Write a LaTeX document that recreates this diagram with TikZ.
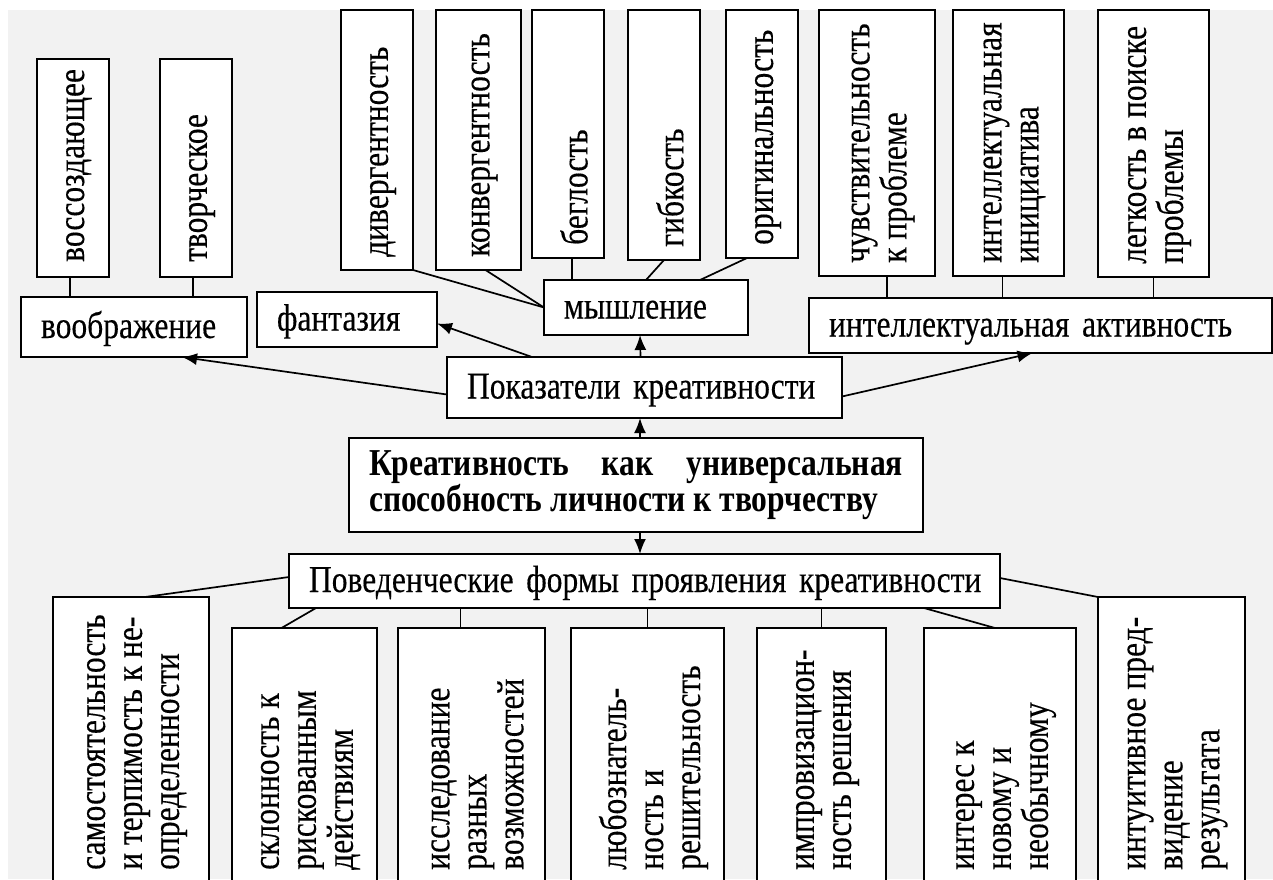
\documentclass[tikz,border=0pt]{standalone}
\usepackage{fontspec}
\setmainfont[FakeStretch=0.83, UprightFeatures={FakeBold=0.3}]{Liberation Serif}
\usetikzlibrary{arrows.meta,calc}
\definecolor{bgc}{HTML}{F2F2F2}
\newcommand{\fsz}{\fontsize{38}{37}\selectfont\hyphenpenalty=10000 }
\newcommand{\fszb}{\fontsize{38}{35}\selectfont\bfseries\hyphenpenalty=10000 }
\begin{document}
\begin{tikzpicture}[x=1pt,y=-1pt,
 bx/.style={draw, line width=1.7pt, fill=white, inner sep=0pt, outer sep=0pt, anchor=north west},
 hb/.style={bx, font=\fsz, align=left, inner xsep=20pt, inner ysep=0pt},
 hl/.style={hb, text height=27pt, text depth=5pt},
 vt/.style={rotate=90, anchor=west, align=left, inner sep=0pt, font=\fsz},
 ln/.style={line width=1.7pt},
 ar/.style={line width=1.7pt, -{Latex[length=15pt,width=12pt]}}]
\clip (0,0) rectangle (1273,879);
\fill[bgc] (8,10) rectangle (1273,879);

% ---- imagination
\node[bx, minimum width=72pt, minimum height=218pt] (vos) at (37,59) {};
\node[bx, minimum width=72pt, minimum height=218pt] (tv) at (160,59) {};
\node[hl, text width=186pt, minimum height=60pt] (voob) at (21,297) {воображение};
\node[vt] (vosT) at ($(vos.south)+(6,-15)$) {воссоздающее};
\node[vt] (tvT) at ($(tv.south)+(6,-15)$) {творческое};
\node[hl, text width=140pt, minimum height=55pt] (fant) at (257,292) {фантазия};

% ---- thinking
\node[bx, minimum width=72pt, minimum height=260pt] (div) at (341,10) {};
\node[bx, minimum width=85pt, minimum height=260pt] (konv) at (436,10) {};
\node[bx, minimum width=72pt, minimum height=248pt] (begl) at (532,10) {};
\node[bx, minimum width=72pt, minimum height=250pt] (gib) at (628,10) {};
\node[bx, minimum width=72pt, minimum height=248pt] (orig) at (726,10) {};
\node[vt] (divT) at ($(div.south)+(6,-13)$) {дивергентность};
\node[vt] (konvT) at ($(konv.south)+(6,-13)$) {конвергентность};
\node[vt] (beglT) at ($(begl.south)+(6,-13)$) {беглость};
\node[vt] (gibT) at ($(gib.south)+(6,-13)$) {гибкость};
\node[vt] (origT) at ($(orig.south)+(6,-13)$) {оригинальность};
\node[hl, text width=164pt, minimum height=55pt] (mysh) at (544,280) {мышление};

% ---- intellectual activity
\node[bx, minimum width=116pt, minimum height=266pt] (chuv) at (819,10) {};
\node[bx, minimum width=111pt, minimum height=266pt] (init) at (953,10) {};
\node[bx, minimum width=111pt, minimum height=267pt] (leg) at (1098,10) {};
\node[vt] (chuvT) at ($(chuv.south)+(6,-13)$) {чувствительность\\к проблеме};
\node[vt] (initT) at ($(init.south)+(6,-13)$) {интеллектуальная\\инициатива};
\node[vt] (legT) at ($(leg.south)+(6,-13)$) {легкость в поиске\\проблемы};
\node[hl, text width=423pt, minimum height=55pt] (ia) at (809,298) {интеллектуальная активность};

% ---- centre
\node[hl, text width=355pt, minimum height=61pt] (pok) at (447,357) {\mbox{Показатели креативности}};
\node[hb, text width=534pt, minimum height=94pt, align=justify, font=\fszb] (krea) at (349,438) {Креативность как универсальная способность личности к творчеству};
\node[hl, text width=671pt, minimum height=54pt] (pov) at (289,554) {\mbox{Поведенческие формы проявления креативности}};

% ---- behavioural forms
\node[bx, minimum width=156pt, minimum height=293pt] (b1) at (53,597) {};
\node[bx, minimum width=145pt, minimum height=262pt] (b2) at (232,628) {};
\node[bx, minimum width=147pt, minimum height=262pt] (b3) at (398,628) {};
\node[bx, minimum width=153pt, minimum height=262pt] (b4) at (571,628) {};
\node[bx, minimum width=129pt, minimum height=262pt] (b5) at (757,628) {};
\node[bx, minimum width=152pt, minimum height=262pt] (b6) at (924,628) {};
\node[bx, minimum width=147pt, minimum height=293pt] (b7) at (1098,597) {};
\node[vt] (b1T) at ($(b1.south)+(6,-20)$) {самостоятельность\\и терпимость к не-\\определенности};
\node[vt] (b2T) at ($(b2.south)+(6,-20)$) {склонность к\\рискованным\\действиям};
\node[vt] (b3T) at ($(b3.south)+(6,-20)$) {исследование\\разных\\возможностей};
\node[vt] (b4T) at ($(b4.south)+(6,-20)$) {любознатель-\\ность и\\решительность};
\node[vt] (b5T) at ($(b5.south)+(6,-20)$) {импровизацион-\\ность решения};
\node[vt] (b6T) at ($(b6.south)+(6,-20)$) {интерес к\\новому и\\необычному};
\node[vt] (b7T) at ($(b7.south)+(6,-20)$) {интуитивное пред-\\видение\\результата};

% ---- helper coordinates
\coordinate (cvos) at ($(vos.south)+(-3,0)$);
\coordinate (ctv) at ($(tv.south)+(-3,0)$);
\coordinate (ckonv) at ($(konv.south)+(7,0)$);
\coordinate (cbegl) at ($(begl.south)+(4,0)$);
\coordinate (corig) at ($(orig.south)+(-15,0)$);
\coordinate (mysho) at ($(mysh.north)+(54,0)$);
\coordinate (cchuv) at ($(chuv.south)+(10,0)$);
\coordinate (cinit) at ($(init.south)+(-6,0)$);
\coordinate (cb3) at ($(b3.north)+(-11,0)$);

% ---- connectors (top)
\draw[ln] (cvos) -- (cvos |- voob.north);
\draw[ln] (ctv) -- (ctv |- voob.north);
\draw[ln] (div.south east) -- (mysh.west);
\draw[ln] (ckonv) -- (mysh.west);
\draw[ln] (cbegl) -- (cbegl |- mysh.north);
\draw[ln] (gib.south) -- (mysh.north);
\draw[ln] (corig) -- (mysho);
\draw[ln] (cchuv) -- (cchuv |- ia.north);
\draw[ln] (cinit) -- (cinit |- ia.north);
\draw[ln] (leg.south) -- (leg.south |- ia.north);

% ---- arrows
\draw[ar] ($(pok.north)+(-4,0)$) -- ($(mysh.south)+(-6,0)$);
\draw[ar] ($(krea.north)+(4,0)$) -- ($(pok.south)+(-4.5,0)$);
\draw[ar] ($(krea.south)+(4,0)$) -- ($(pov.north)+(-4.5,0)$);
\draw[ar] ($(pok.west)+(0,7)$) -- ($(voob.south)+(48,0)$);
\draw[ar] ($(pok.north west)+(85,0)$) -- ($(fant.east)+(0,4)$);
\draw[ar] ($(pok.east)+(0,9)$) -- ($(ia.south)+(-8,0)$);

% ---- connectors (bottom)
\draw[ln] ($(pov.west)+(0,-4)$) -- ($(b1.north)+(14,0)$);
\draw[ln] ($(pov.south west)+(27,0)$) -- ($(b2.north)+(-23,0)$);
\draw[ln] (cb3) -- (cb3 |- pov.south);
\draw[ln] (b4.north) -- (b4.north |- pov.south);
\draw[ln] (b5.north) -- (b5.north |- pov.south);
\draw[ln] ($(pov.south east)+(-76,0)$) -- ($(b6.north)+(-5,0)$);
\draw[ln] ($(pov.east)+(0,-3)$) -- (b7.north west);
\end{tikzpicture}
\end{document}
